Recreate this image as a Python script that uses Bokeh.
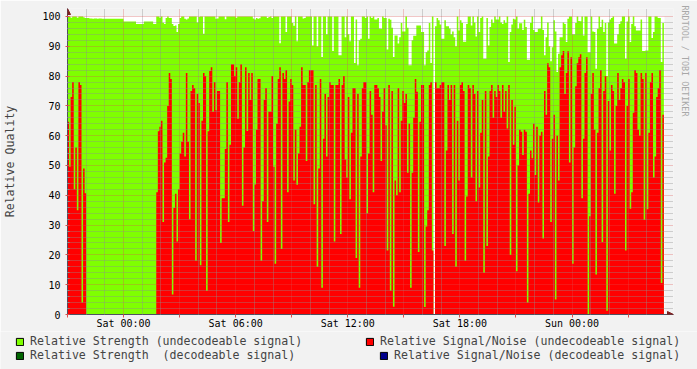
from bokeh.plotting import figure
from bokeh.models import (Range1d, FixedTicker, Legend, LegendItem, Title, ColumnDataSource,
                          Arrow, NormalHead)
from bokeh.embed import file_html
from bokeh.resources import INLINE

# ---------------- data (5-minute samples, hours relative to Sat 00:00) ----------------
START_HOUR = -3.0          # Fri 21:00
END_HOUR = 28.95           # Sun ~04:57
STEP_HOURS = 5.0 / 60.0    # 5 minutes

# Relative Signal/Noise (undecodeable signal)
snr_fri_evening = [64.7, 49.6, 73, 78, 42, 56, 35, 78, 77, 4, 49, 40.7,
                   0, 0, 0, 0, 0, 0, 0, 0, 0, 0, 0, 0, 0, 0, 0, 0, 0, 0, 0, 0, 0, 0, 0,
                   0, 0, 0, 0, 0, 0, 0, 0, 0, 0, 0, 0, 0, 0, 0, 0, 0, 0, 0, 0, 0, 0,
                   41, 61.5, 63, 65, 31, 51, 52.6]
snr_sat_early = [70, 81, 79, 6.7, 35.7, 40.5, 24.5, 42, 54, 58, 61, 53, 81, 58, 32, 75, 77, 76,
                 18, 74, 71, 16.5, 65, 81, 80, 8, 61.5, 81.7, 83, 68, 78, 68.5, 75, 75, 24, 39,
                 39, 55.5, 78, 31, 57, 84, 84, 80, 83, 65.7, 78, 84, 36.5, 56, 83, 61.6, 81, 72,
                 81, 28, 43.6, 62, 79, 79, 18, 38, 72, 76]
snr_sat_morning = [31, 68, 68, 80, 49.6, 17, 64, 79, 83, 22, 81, 79, 82, 41, 71.5, 79, 77, 45,
                   62, 43.5, 54, 63, 83, 77, 77, 51.5, 78, 82, 82, 82, 37, 77, 16, 49, 79, 9, 59,
                   74, 53, 73, 78, 77, 77, 24.5, 77, 77, 79, 27, 77, 80, 52, 46, 73, 38.7, 61, 76,
                   76, 19, 74, 9, 53, 76, 78, 78]
snr_sat_afternoon = [34, 54, 75, 67, 41, 77, 77, 76, 73, 51.5, 68, 76, 63.5, 21.5, 77, 8, 75,
                     2.6, 45, 40, 76, 41, 65, 75, 71, 74, 47.6, 64, 9, 47.6, 66, 79, 74.7, 21,
                     64.7, 77, 77, 2.5, 29.5, 35, 77, 78, 21.5, 0, 78, 76, 76, 77, 78, 78, 23, 55,
                     77, 72, 77, 27, 77, 16, 65, 45, 77, 78, 75, 18]
snr_sat_evening = [39.6, 77, 76, 46, 77, 74, 38, 75, 42.6, 61, 72, 14, 75, 23, 53, 75, 77, 66,
                   75, 73, 77, 75, 66, 77, 68, 75, 62.4, 77, 20, 72, 57, 69.7, 14.5, 50, 62, 61.3,
                   53.5, 62, 61.3, 4, 40.5, 55, 52.4, 64, 46.8, 63, 37.6, 60, 61.3, 25.5, 75, 67,
                   84.3, 83, 31, 59, 67, 5, 60, 45, 83, 87, 88.4, 74]
snr_sun_night = [81, 88.3, 51, 86.3, 17, 56, 76.6, 84.3, 86.3, 87.3, 39, 59, 81, 86.3, 0.2, 33,
                 74, 81, 62, 13.4, 61, 76, 82, 24.3, 75, 80, 1.3, 71.6, 55, 77, 75, 40.5, 70, 81,
                 72, 76, 79, 78, 21.5, 70, 79, 35.5, 41, 67.7, 82, 81, 62, 60, 81, 79, 31.8, 81,
                 35.3, 61, 78, 81, 46, 53, 73, 76, 82, 10.6, 67]

# Relative Strength (undecodeable signal)
str_fri_evening = [100, 100, 99.6, 100, 100, 100, 99.6, 100, 100, 100, 99.7, 99.5, 99.5, 99.5,
                   99.3, 99.3, 99.2, 99.3, 99.3, 99.2, 99.3, 99.3, 99.2, 99.2, 99.2, 99.2, 99.2,
                   99.2, 99.2, 99.2, 99.2, 99.2, 99.2, 99.2, 99.2, 99.2,
                   98.3, 98.3, 98.3, 98.3, 98.3, 98.3, 98.3, 98.3,
                   97.5, 97.5, 97.5, 97.5, 97.5,
                   98.3, 98.3, 98.3, 98.3, 98.3, 98.3,
                   97.5, 97.5, 100, 100, 99.6, 100, 97.9, 97.5, 99.5]
str_sat_early = [100, 99.5, 99.5, 97.5, 96.8, 97, 94.8, 97.5, 99.5, 100, 100, 99.2, 99, 99.3,
                 100, 100, 100, 100, 100, 98, 99.8, 100, 100, 94.2, 100, 100, 100, 100, 100, 100,
                 100, 99.2, 99.3, 100, 100, 100, 100, 99.1, 100, 100, 100, 100, 100, 100, 99.6,
                 100, 100, 100, 100, 100, 100, 100, 100, 100, 100, 99.3, 99, 99.5, 99.2, 99.4,
                 100, 100, 100, 100]
str_sat_morning = [99.5, 99.8, 100, 99.5, 100, 100, 100, 100, 91, 100, 100, 100, 94.8, 100, 100,
                   100, 97.8, 96.9, 100, 91.7, 100, 100, 100, 99.3, 99.5, 100, 100, 100, 100,
                   90.3, 100, 100, 90, 100, 100, 86.4, 100, 100, 94, 100, 100, 100, 88.4, 100,
                   100, 100, 87, 87, 100, 100, 93, 100, 94, 91.7, 100, 100, 84.4, 99, 83.6, 92,
                   92.5, 100, 100, 99.5]
str_sat_afternoon = [100, 92.5, 100, 99.5, 100, 99, 99, 99.5, 96, 95.9, 100, 99.5, 99.5, 88.9,
                     99.2, 98.9, 96.2, 86.4, 93.6, 93.6, 90.9, 93, 97.8, 95, 95, 100, 96.2, 83.6,
                     83.6, 92, 93.5, 93.5, 97, 97, 97, 94.8, 94.8, 83.6, 88, 88.6, 97.8, 84.4,
                     100, 0, 96.7, 99.5, 98.7, 97.3, 92.5, 92.5, 98.7, 96.7, 96.7, 96, 94, 95, 93,
                     90, 100, 95.3, 98.7, 97.8, 91.5, 91.5]
str_sat_evening = [97.5, 100, 100, 97, 100, 98, 93.3, 100, 94.8, 99.5, 100, 85.8, 85.8, 99.5,
                   90.3, 96.5, 99, 97.8, 100, 99, 99, 100, 98, 97.5, 98.7, 97.8, 100, 84.7, 94.8,
                   97.3, 99.2, 99, 100, 96, 97.7, 97.7, 95.5, 98.9, 96.5, 85.5, 85.5, 97.8, 100,
                   95.5, 94.8, 94.8, 95.9, 96, 100, 95.5, 87, 93, 98, 90, 85, 89.7, 98.7, 95,
                   81.4, 87.5, 93, 93, 98, 97.5]
str_sun_night = [91.4, 99.2, 100, 100, 94, 94, 97.8, 100, 98.5, 98.4, 100, 93.6, 100, 100, 88,
                 88, 100, 95, 94.8, 82.5, 95.9, 100, 96.5, 98.9, 94.8, 97.8, 80, 98, 99, 99.5,
                 100, 90.9, 90.9, 94, 97.5, 98.4, 100, 100, 85.8, 98.3, 100, 91.4, 97.5, 100,
                 96.7, 95.3, 95.3, 95.3, 99, 88.4, 88.4, 88.6, 88.6, 100, 100, 92.8, 94.8, 100,
                 100, 99.5, 99.5, 84.7, 97.8]

x_major_hours = [-3, 0, 3, 6, 9, 12, 15, 18, 21, 24, 27]
x_tick_labels = {0: "Sat 00:00", 6: "Sat 06:00", 12: "Sat 12:00", 18: "Sat 18:00", 24: "Sun 00:00"}
y_major = [0, 10, 20, 30, 40, 50, 60, 70, 80, 90, 100]
Y_MIN, Y_MAX = 0, 100

legend_labels = ["Relative Strength (undecodeable signal)",
                 "Relative Strength  (decodeable signal)",
                 "Relative Signal/Noise (undecodeable signal)",
                 "Relative Signal/Noise (decodeable signal)"]
legend_colors = ["#7FFF00", "#006400", "#FF0000", "#00008B"]

# ---------------- build ----------------
snr_undec = (snr_fri_evening + snr_sat_early + snr_sat_morning + snr_sat_afternoon
             + snr_sat_evening + snr_sun_night)
strength_undec = (str_fri_evening + str_sat_early + str_sat_morning + str_sat_afternoon
                  + str_sat_evening + str_sun_night)
N = len(snr_undec)
hours = [START_HOUR + i * STEP_HOURS for i in range(N + 1)]
src = ColumnDataSource(dict(t=hours,
                            strength=strength_undec + [strength_undec[-1]],
                            snr=snr_undec + [snr_undec[-1]],
                            base=[0] * (N + 1)))

MONO = "DejaVu Sans Mono"
BG = "#F2F2F2"
ARROW = "#801F1F"

# the frame reaches a little past the graph canvas (top and right) so the axis arrows fit
PX_PER_HOUR = 18.75
PX_PER_UNIT = 2.99
x_hi = END_HOUR + 9 / PX_PER_HOUR
y_hi = Y_MAX + 8 / PX_PER_UNIT

p = figure(width=697, height=331,
           x_range=Range1d(START_HOUR, x_hi), y_range=Range1d(Y_MIN, y_hi),
           output_backend="svg", toolbar_location=None,
           min_border_left=67, min_border_right=22, min_border_top=8, min_border_bottom=16)
p.background_fill_color = BG
p.border_fill_color = BG
p.outline_line_color = None

# white graph canvas, then the two areas
p.quad(left=[START_HOUR], right=[END_HOUR], bottom=[Y_MIN], top=[Y_MAX],
       fill_color="white", line_color=None, level="underlay")
p.varea_step(x="t", y1="base", y2="strength", source=src, step_mode="after",
             fill_color=legend_colors[0])
p.varea_step(x="t", y1="base", y2="snr", source=src, step_mode="after",
             fill_color=legend_colors[2])

# ticks and grid
x_minor = [h for h in range(-3, 29) if h % 3 != 0]
y_minor = [v for v in range(0, 101, 2) if v % 10 != 0]
p.xaxis.ticker = FixedTicker(ticks=x_major_hours, minor_ticks=x_minor)
p.yaxis.ticker = FixedTicker(ticks=y_major, minor_ticks=y_minor)
p.xaxis.major_label_overrides = {h: x_tick_labels.get(h, "") for h in x_major_hours}

p.xgrid.bounds = (Y_MIN, Y_MAX)
p.ygrid.bounds = (START_HOUR, END_HOUR)
for g in (p.xgrid, p.ygrid):
    g.level = "overlay"
    g.grid_line_color = "#DE4F4F"
    g.grid_line_alpha = 0.6
    g.grid_line_dash = "1 1"
    g.minor_grid_line_color = "#8F8F8F"
    g.minor_grid_line_alpha = 0.75
    g.minor_grid_line_dash = "1 1"

for ax in (p.xaxis, p.yaxis):
    ax.axis_line_color = "#505060"
    ax.major_label_text_font = MONO
    ax.major_label_text_font_size = "10px"
    ax.major_label_text_color = "black"
    ax.major_tick_line_color = "#DE4F4F"
    ax.minor_tick_line_color = "#8F8F8F"

p.xaxis.major_tick_out = 3
p.xaxis.major_tick_in = 0
p.xaxis.minor_tick_out = 0
p.xaxis.minor_tick_in = 0
p.xaxis.major_label_standoff = 0

p.yaxis.major_tick_out = 2
p.yaxis.major_tick_in = 2
p.yaxis.minor_tick_out = 0
p.yaxis.minor_tick_in = 2
p.yaxis.major_label_standoff = 5
p.yaxis.axis_label = "Relative Quality"
p.yaxis.axis_label_text_font = MONO
p.yaxis.axis_label_text_font_size = "11.6px"
p.yaxis.axis_label_text_font_style = "normal"
p.yaxis.axis_label_standoff = 22

# axis arrows
p.add_layout(Arrow(end=NormalHead(size=6, fill_color=ARROW, line_color=ARROW),
                   x_start=START_HOUR, y_start=Y_MAX, x_end=START_HOUR, y_end=y_hi,
                   line_alpha=0))
p.add_layout(Arrow(end=NormalHead(size=6, fill_color=ARROW, line_color=ARROW),
                   x_start=END_HOUR, y_start=Y_MIN, x_end=x_hi, y_end=Y_MIN,
                   line_alpha=0))

# watermark on the right side
p.add_layout(Title(text="RRDTOOL / TOBI OETIKER", align="left",
                   text_font=MONO, text_font_size="8.4px", text_font_style="normal",
                   text_color="#A8A8A8", standoff=12, offset=-3), "right")

# ---------------- legend strip (separate root, placed below the chart) ----------------
leg = figure(width=697, height=38, x_range=Range1d(0, 697), y_range=Range1d(0, 38),
             output_backend="svg", toolbar_location=None,
             x_axis_location=None, y_axis_location=None,
             min_border_left=0, min_border_right=0, min_border_top=0, min_border_bottom=0)
leg.background_fill_color = BG
leg.border_fill_color = BG
leg.outline_line_color = None
leg.xgrid.visible = False
leg.ygrid.visible = False

nan = float("nan")
swatches = [leg.quad(left=[nan], right=[nan], top=[nan], bottom=[nan], fill_color=c,
                     line_color="black", line_width=1) for c in legend_colors]


def make_legend(idx, loc):
    lg = Legend(items=[LegendItem(label=legend_labels[i], renderers=[swatches[i]]) for i in idx],
                location=loc, orientation="vertical", padding=0, margin=0, spacing=0,
                glyph_width=9, glyph_height=9, label_height=9, label_standoff=6,
                label_text_font=MONO, label_text_font_size="11.6px",
                background_fill_alpha=0, border_line_color=None)
    leg.add_layout(lg, "center")


make_legend([0, 1], (15, 7))
make_legend([2], (365, 21))
make_legend([3], (379, 7))

open("out.html", "w").write(file_html([p, leg], INLINE))
